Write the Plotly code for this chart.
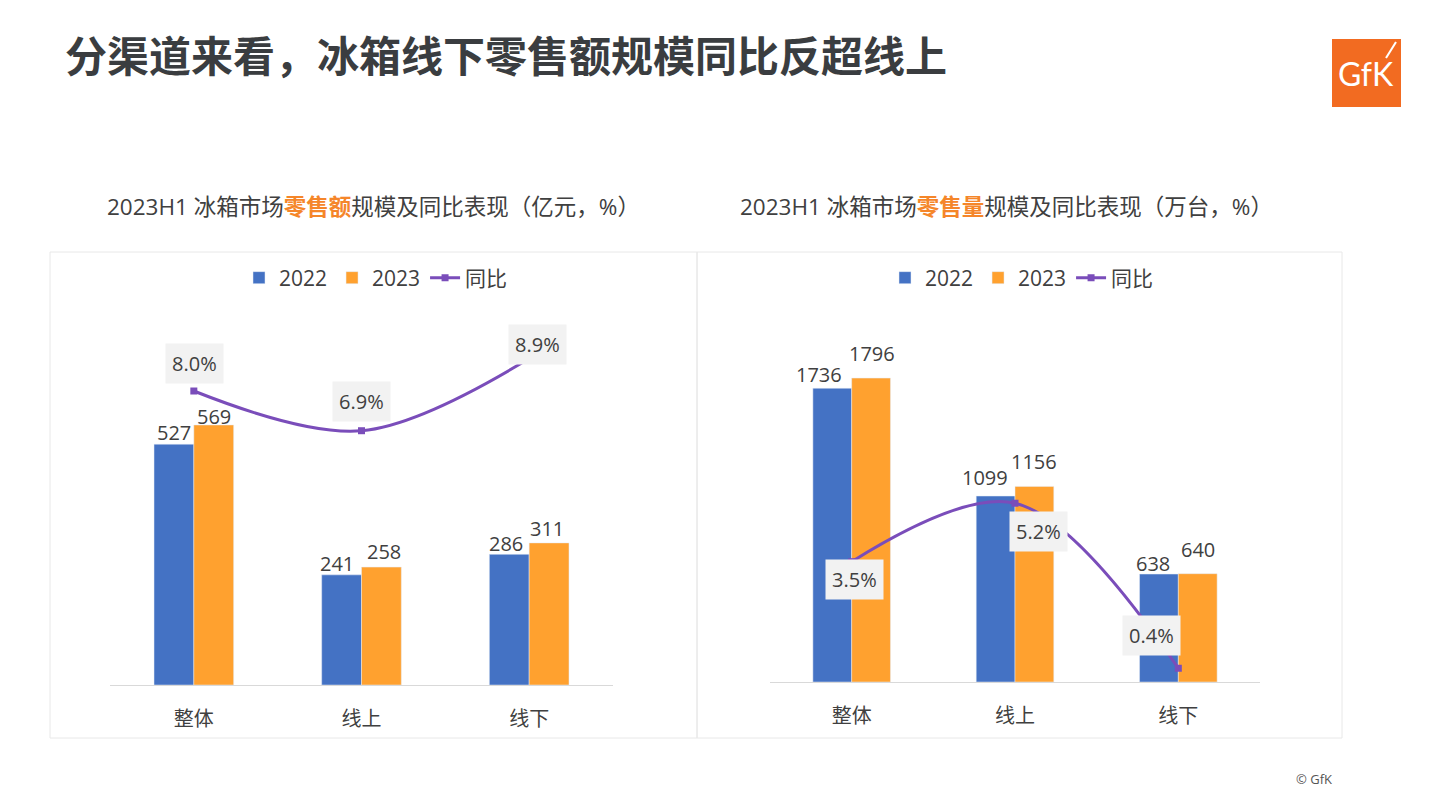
import plotly.graph_objects as go

# ---------------- data ----------------
categories = ["整体", "线上", "线下"]
amount_2022 = [527, 241, 286]
amount_2023 = [569, 258, 311]
amount_yoy = [8.0, 6.9, 8.9]
volume_2022 = [1736, 1099, 638]
volume_2023 = [1796, 1156, 640]
volume_yoy = [3.5, 5.2, 0.4]

# label placement offsets (pixels, style only)
amount_label_shift = [(1, 28), (0, 29), (8, 14)]
volume_label_shift = [(3, -18), (23, -28), (-27, 33)]
amount_2022_lbl = [(0, -4), (-5, -4), (-3, -5)]
amount_2023_lbl = [(0, -7), (3, 0), (-2, -1)]
volume_2022_lbl = [(-13, -2), (-11, 3), (-6, -5)]
volume_2023_lbl = [(1, 9), (0, 9), (0, 9)]

W, H = 1441, 810
def px(x):
    return x / W
def py(y):
    return 1 - y / H

BLUE = "#4472C4"
ORANGE = "#FFA12F"
PURPLE = "#7A4DBA"
TXT = "#404040"
FONT = "Open Sans, Noto Sans CJK SC, sans-serif"

fig = go.Figure()

# left panel
fig.add_trace(go.Bar(x=categories, y=amount_2022, name="2022", marker_color=BLUE,
                     xaxis="x", yaxis="y", legend="legend"))
fig.add_trace(go.Bar(x=categories, y=amount_2023, name="2023", marker_color=ORANGE,
                     xaxis="x", yaxis="y", legend="legend"))
fig.add_trace(go.Scatter(x=categories, y=amount_yoy, name="同比", mode="lines+markers",
                         line=dict(color=PURPLE, width=3, shape="spline", smoothing=1),
                         marker=dict(symbol="square", size=7, color=PURPLE),
                         xaxis="x", yaxis="y2", legend="legend", cliponaxis=False))

# right panel
fig.add_trace(go.Bar(x=categories, y=volume_2022, name="2022", marker_color=BLUE,
                     xaxis="x2", yaxis="y3", legend="legend2"))
fig.add_trace(go.Bar(x=categories, y=volume_2023, name="2023", marker_color=ORANGE,
                     xaxis="x2", yaxis="y3", legend="legend2"))
fig.add_trace(go.Scatter(x=categories, y=volume_yoy, name="同比", mode="lines+markers",
                         line=dict(color=PURPLE, width=3, shape="spline", smoothing=1),
                         marker=dict(symbol="square", size=7, color=PURPLE),
                         xaxis="x2", yaxis="y4", legend="legend2", cliponaxis=False))

annotations = []

def bar_labels(values, shifts, xref, yref, half):
    for cat, v, (dx, dy) in zip(categories, values, shifts):
        annotations.append(dict(x=cat, y=v, xref=xref, yref=yref, text=str(v),
                                showarrow=False, xanchor="center", yanchor="bottom",
                                xshift=half + dx, yshift=dy,
                                font=dict(size=20, color=TXT, family=FONT)))

bar_labels(amount_2022, amount_2022_lbl, "x", "y", -19.8)
bar_labels(amount_2023, amount_2023_lbl, "x", "y", 19.8)
bar_labels(volume_2022, volume_2022_lbl, "x2", "y3", -19.4)
bar_labels(volume_2023, volume_2023_lbl, "x2", "y3", 19.4)

for cat, v, (dx, dy) in zip(categories, amount_yoy, amount_label_shift):
    annotations.append(dict(x=cat, y=v, xref="x", yref="y2", text=f"{v:.1f}%",
                            showarrow=False, xshift=dx, yshift=dy, bgcolor="#F2F2F2",
                            borderpad=6, font=dict(size=20, color=TXT, family=FONT)))
for cat, v, (dx, dy) in zip(categories, volume_yoy, volume_label_shift):
    annotations.append(dict(x=cat, y=v, xref="x2", yref="y4", text=f"{v:.1f}%",
                            showarrow=False, xshift=dx, yshift=dy, bgcolor="#F2F2F2",
                            borderpad=6, font=dict(size=20, color=TXT, family=FONT)))

# titles
annotations.append(dict(x=px(63), y=py(54), xref="paper", yref="paper", xanchor="left", yanchor="middle",
                        text="<b>分渠道来看，冰箱线下零售额规模同比反超线上</b>", showarrow=False,
                        font=dict(size=42, color="#3A3D40", family="Noto Sans CJK SC")))
annotations.append(dict(x=px(105), y=py(206), xref="paper", yref="paper", xanchor="left", yanchor="middle",
                        text="2023H1 冰箱市场<span style='color:#F5862A'><b>零售额</b></span>规模及同比表现（亿元，%）",
                        showarrow=False, font=dict(size=22.5, color=TXT, family=FONT)))
annotations.append(dict(x=px(738), y=py(206), xref="paper", yref="paper", xanchor="left", yanchor="middle",
                        text="2023H1 冰箱市场<span style='color:#F5862A'><b>零售量</b></span>规模及同比表现（万台，%）",
                        showarrow=False, font=dict(size=22.5, color=TXT, family=FONT)))
annotations.append(dict(x=px(1314), y=py(779), xref="paper", yref="paper", xanchor="center", yanchor="middle",
                        text="© GfK", showarrow=False, font=dict(size=13, color="#555555", family=FONT)))
annotations.append(dict(x=px(1366), y=py(74), xref="paper", yref="paper", xanchor="center", yanchor="middle",
                        text="GfK", showarrow=False, font=dict(size=32, color="white", family="Lato")))

shapes = [
    dict(type="rect", xref="paper", yref="paper", x0=px(50), x1=px(697), y0=py(738), y1=py(252),
         line=dict(color="#E8E8E8", width=1)),
    dict(type="rect", xref="paper", yref="paper", x0=px(697), x1=px(1342), y0=py(738), y1=py(252),
         line=dict(color="#E8E8E8", width=1)),
    dict(type="rect", xref="paper", yref="paper", x0=px(1332), x1=px(1401), y0=py(107), y1=py(39),
         fillcolor="#F26B21", line=dict(width=0)),
    dict(type="line", xref="paper", yref="paper", x0=px(1396), x1=px(1386), y0=py(42), y1=py(58),
         line=dict(color="white", width=2)),
]

axis_x = dict(type="category", showline=True, linecolor="#D9D9D9", linewidth=1, showgrid=False,
              zeroline=False, ticks="", ticklabelstandoff=16,
              tickfont=dict(size=20, color=TXT, family=FONT), fixedrange=True)

fig.update_layout(
    width=W, height=H, margin=dict(l=0, r=0, t=0, b=0),
    paper_bgcolor="white", plot_bgcolor="rgba(0,0,0,0)",
    font=dict(family=FONT, color=TXT),
    barmode="group", bargap=0.525, bargroupgap=0,
    xaxis=dict(axis_x, domain=[px(110), px(613)], anchor="y"),
    yaxis=dict(domain=[py(685), py(300)], range=[0, 842.5], visible=False, anchor="x"),
    yaxis2=dict(domain=[py(685), py(300)], range=[-0.144, 10.521], visible=False,
                overlaying="y", anchor="x"),
    xaxis2=dict(axis_x, domain=[px(770), px(1260)], anchor="y3"),
    yaxis3=dict(domain=[py(682), py(300)], range=[0, 2257.5], visible=False, anchor="x2"),
    yaxis4=dict(domain=[py(682), py(300)], range=[0, 11.11], visible=False,
                overlaying="y3", anchor="x2"),
    legend=dict(orientation="h", x=px(376), y=py(278), xanchor="center", yanchor="middle",
                font=dict(size=21, color=TXT, family=FONT), bgcolor="rgba(0,0,0,0)"),
    legend2=dict(orientation="h", x=px(1022), y=py(278), xanchor="center", yanchor="middle",
                 font=dict(size=21, color=TXT, family=FONT), bgcolor="rgba(0,0,0,0)"),
    annotations=annotations,
    shapes=shapes,
)

fig.write_html("out.html", config={"displayModeBar": False},
               post_script="document.body.style.margin='0';document.body.style.overflow='hidden';")
